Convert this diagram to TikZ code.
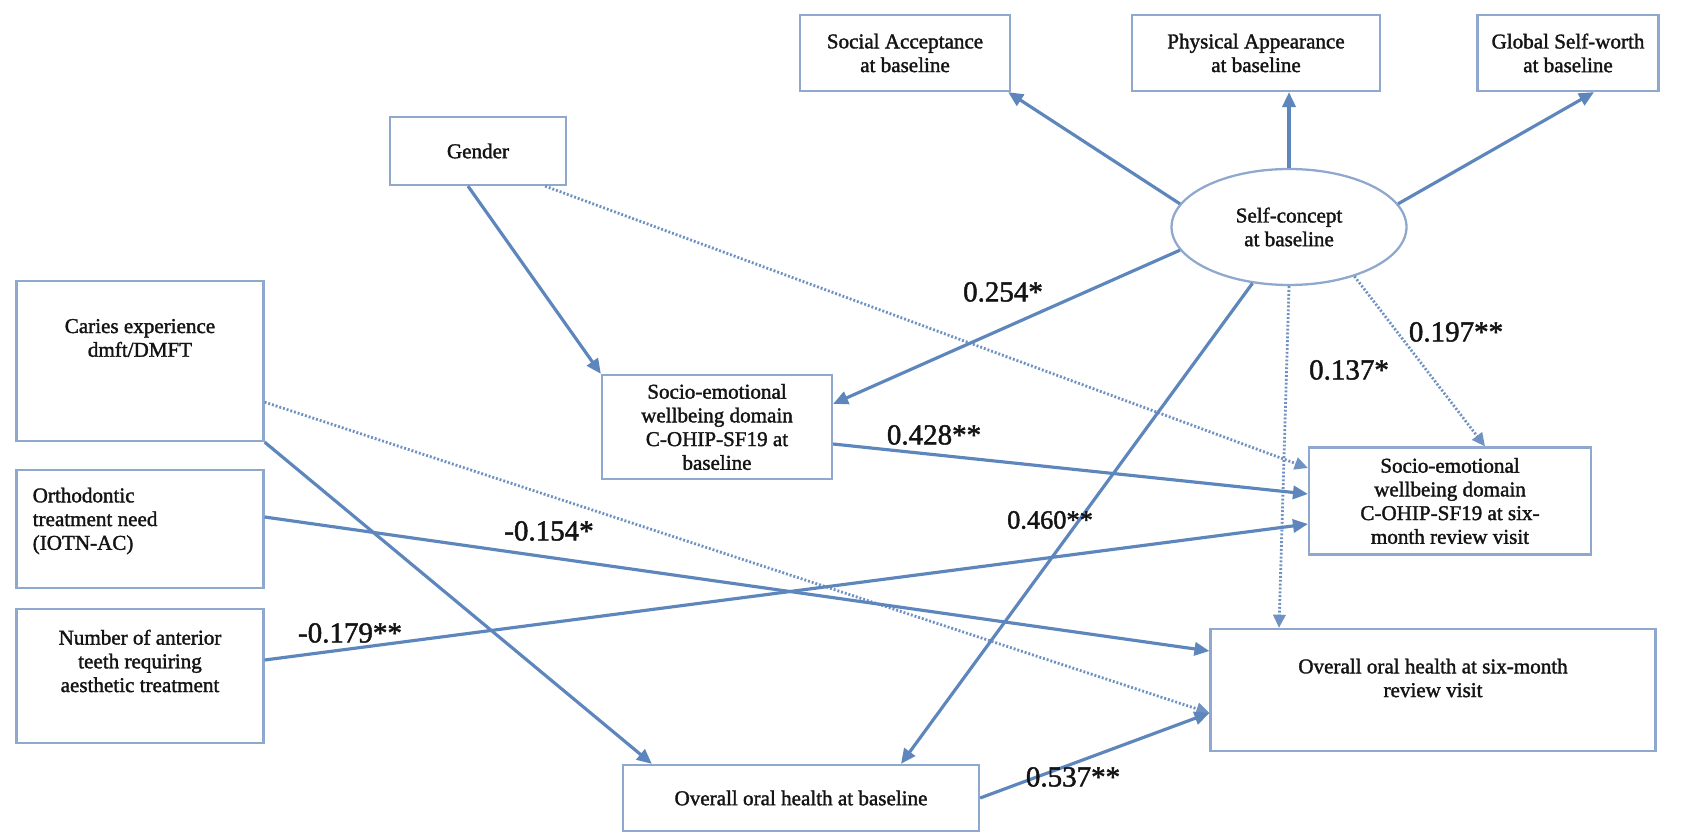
\documentclass[tikz,border=0pt]{standalone}
\usepackage{fontspec}
\setmainfont{Liberation Serif}[FakeBold=1.6]
\usetikzlibrary{arrows.meta,shapes.geometric}
\definecolor{boxc}{HTML}{8FA8CE}
\definecolor{linec}{HTML}{5D86BC}
\definecolor{dotc}{HTML}{6F92C2}
\definecolor{txtc}{HTML}{141414}
\begin{document}
\begin{tikzpicture}[x=0.02cm,y=-0.02cm,
  box/.style={draw=boxc, line width=1.3pt, fill=white, inner sep=0pt, text=txtc, font=\fontsize{12}{13.5}\selectfont, align=center},
  boxtext/.style={text=txtc, font=\fontsize{12}{13.5}\selectfont, align=center, inner sep=0pt},
  ell/.style={ellipse, draw=boxc, line width=1.3pt, fill=white, inner sep=0pt, text=txtc, font=\fontsize{12}{13.5}\selectfont, align=center},
  arr/.style={draw=linec, line width=1.8pt, -{Triangle[length=8.5pt,width=7.5pt]}},
  dot/.style={draw=dotc, line width=1.6pt, dash pattern=on 1.1pt off 1.1pt, -{Triangle[length=7.5pt,width=7pt]}},
  lbl/.style={text=txtc, font=\fontsize{16.5}{18}\selectfont, inner sep=1pt}
]
\useasboundingbox (0,0) rectangle (1706,834);
\fill[white] (0,0) rectangle (1706,834);

% boxes
\node[box, minimum width=4.2cm, minimum height=1.52cm] (sa) at (905,53) {Social Acceptance\\at baseline};
\node[box, minimum width=4.96cm, minimum height=1.52cm] (pa) at (1256,53) {Physical Appearance\\at baseline};
\node[box, minimum width=3.62cm, minimum height=1.52cm] (gs) at (1568,53) {Global Self-worth\\at baseline};
\node[box, minimum width=3.52cm, minimum height=1.36cm] (gender) at (478,151) {Gender};
\node[ell, minimum width=4.7cm, minimum height=2.32cm] (sc) at (1289,227) {Self-concept\\at baseline};
\node[box, minimum width=4.94cm, minimum height=3.2cm,
  label={[boxtext, yshift=0.46cm]center:{Caries experience\\dmft/DMFT}}] (caries) at (140,361) {};
\node[box, minimum width=4.94cm, minimum height=2.36cm,
  label={[boxtext, align=left, anchor=west, xshift=0.34cm, yshift=0.16cm]west:{Orthodontic\\treatment need\\(IOTN-AC)}}] (ortho) at (140,529) {};
\node[box, minimum width=4.94cm, minimum height=2.68cm,
  label={[boxtext, yshift=0.3cm]center:{Number of anterior\\teeth requiring\\aesthetic treatment}}] (number) at (140,676) {};
\node[box, minimum width=4.6cm, minimum height=2.08cm] (sb) at (717,427) {Socio-emotional\\wellbeing domain\\C-OHIP-SF19 at\\baseline};
\node[box, minimum width=5.64cm, minimum height=2.14cm] (s6) at (1450,501) {Socio-emotional\\wellbeing domain\\C-OHIP-SF19 at six-\\month review visit};
\node[box, minimum width=8.9cm, minimum height=2.44cm,
  label={[boxtext, yshift=0.24cm]center:{Overall oral health at six-month\\review visit}}] (o6) at (1433,690) {};
\node[box, minimum width=7.12cm, minimum height=1.32cm] (ob) at (801,798) {Overall oral health at baseline};

% connectors
\draw[arr] (sc.168) -- ([xshift=-0.06cm]sa.south east);
\draw[arr] (sc.north) -- (sc.north |- pa.south);
\draw[arr] (sc.12) -- ([xshift=0.52cm]gs.south);
\draw[arr] ([xshift=-0.2cm]gender.south) -- (sb.north west);
\draw[dot] ([xshift=-0.44cm]gender.south east) -- ([yshift=0.66cm]s6.west);
\draw[arr] (sc.192) -- ([yshift=-0.6cm]sb.north east);
\draw[arr] (sc.237) -- ([xshift=2cm]ob.north);
\draw[dot] (sc.south) -- ([xshift=-0.2cm]sc.south |- o6.north);
\draw[dot] (sc.323) -- ([xshift=0.7cm]s6.north);
\draw[arr] ([yshift=-0.34cm]sb.east) -- ([yshift=0.14cm]s6.west);
\draw[arr] (caries.south east) -- ([xshift=0.6cm]ob.north west);
\draw[dot] ([yshift=0.8cm]caries.south east) -- ([yshift=-0.46cm]o6.west);
\draw[arr] ([yshift=0.24cm]ortho.east) -- ([yshift=0.78cm]o6.west);
\draw[arr] ([yshift=0.32cm]number.east) -- ([yshift=-0.46cm]s6.west);
\draw[arr] (ob.east) -- ([yshift=-0.46cm]o6.west);

% coefficients
\node[lbl] (l254) at (1003,292) {0.254*};
\node[lbl] (l197) at (1456,332) {0.197**};
\node[lbl] (l137) at (1349,370) {0.137*};
\node[lbl] (l428) at (934,435) {0.428**};
\node[lbl, font=\fontsize{15}{17}\selectfont] (l460) at (1050,520) {0.460**};
\node[lbl] (l154) at (549,531) {-0.154*};
\node[lbl] (l179) at (350,633) {-0.179**};
\node[lbl] (l537) at (1073,777) {0.537**};
\end{tikzpicture}
\end{document}
